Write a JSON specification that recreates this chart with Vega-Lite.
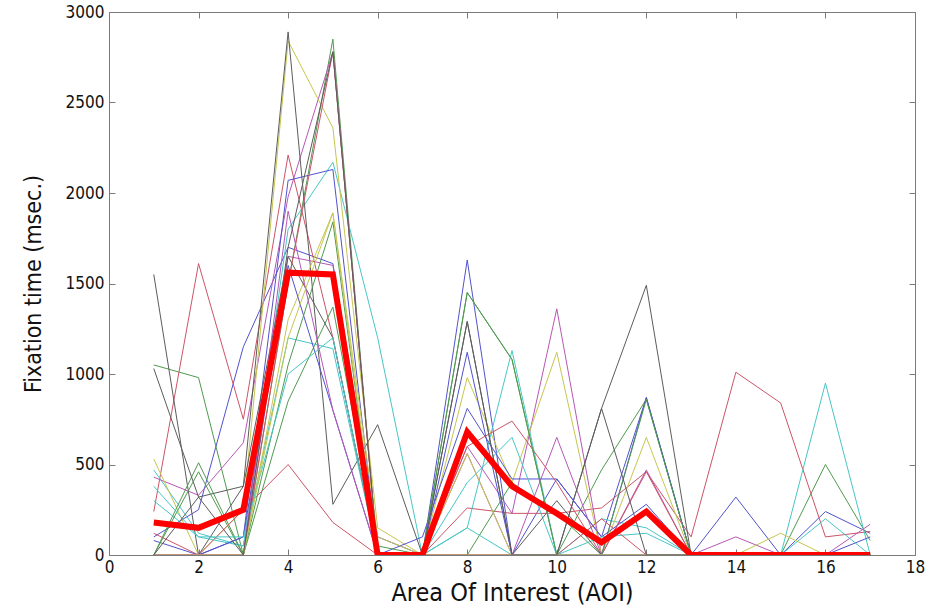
{
  "$schema": "https://vega.github.io/schema/vega-lite/v6.json",
  "width": 806,
  "height": 543,
  "autosize": "none",
  "padding": {"left": 109, "top": 12, "right": 17, "bottom": 57},
  "background": "white",
  "config": {
    "view": {"stroke": null},
    "axis": {
      "grid": false,
      "domainColor": "#7a7a7a",
      "tickColor": "#7a7a7a",
      "labelFont": "DejaVu Sans Condensed, Liberation Sans, sans-serif",
      "titleFont": "DejaVu Sans Condensed, Liberation Sans, sans-serif",
      "labelColor": "#111111",
      "titleColor": "#111111",
      "titleFontWeight": "normal",
      "labelFontSize": 17,
      "titleFontSize": 25
    }
  },
  "datasets": {
    "subjects": [
      {"s":"s01","aoi":1,"t":100},{"s":"s01","aoi":2,"t":250},{"s":"s01","aoi":3,"t":1150},{"s":"s01","aoi":4,"t":1700},{"s":"s01","aoi":5,"t":1610},{"s":"s01","aoi":6,"t":100},{"s":"s01","aoi":7,"t":0},{"s":"s01","aoi":8,"t":1630},{"s":"s01","aoi":9,"t":0},{"s":"s01","aoi":10,"t":420},{"s":"s01","aoi":11,"t":100},{"s":"s01","aoi":12,"t":870},{"s":"s01","aoi":13,"t":0},{"s":"s01","aoi":14,"t":320},{"s":"s01","aoi":15,"t":0},{"s":"s01","aoi":16,"t":240},{"s":"s01","aoi":17,"t":120},
      {"s":"s02","aoi":1,"t":1050},{"s":"s02","aoi":2,"t":980},{"s":"s02","aoi":3,"t":0},{"s":"s02","aoi":4,"t":1500},{"s":"s02","aoi":5,"t":2850},{"s":"s02","aoi":6,"t":0},{"s":"s02","aoi":7,"t":0},{"s":"s02","aoi":8,"t":1450},{"s":"s02","aoi":9,"t":1080},{"s":"s02","aoi":10,"t":0},{"s":"s02","aoi":11,"t":470},{"s":"s02","aoi":12,"t":860},{"s":"s02","aoi":13,"t":0},{"s":"s02","aoi":14,"t":0},{"s":"s02","aoi":15,"t":0},{"s":"s02","aoi":16,"t":500},{"s":"s02","aoi":17,"t":80},
      {"s":"s03","aoi":1,"t":240},{"s":"s03","aoi":2,"t":1610},{"s":"s03","aoi":3,"t":750},{"s":"s03","aoi":4,"t":2210},{"s":"s03","aoi":5,"t":1200},{"s":"s03","aoi":6,"t":0},{"s":"s03","aoi":7,"t":0},{"s":"s03","aoi":8,"t":260},{"s":"s03","aoi":9,"t":230},{"s":"s03","aoi":10,"t":230},{"s":"s03","aoi":11,"t":260},{"s":"s03","aoi":12,"t":460},{"s":"s03","aoi":13,"t":100},{"s":"s03","aoi":14,"t":1010},{"s":"s03","aoi":15,"t":840},{"s":"s03","aoi":16,"t":100},{"s":"s03","aoi":17,"t":130},
      {"s":"s04","aoi":1,"t":470},{"s":"s04","aoi":2,"t":120},{"s":"s04","aoi":3,"t":50},{"s":"s04","aoi":4,"t":1800},{"s":"s04","aoi":5,"t":2170},{"s":"s04","aoi":6,"t":1200},{"s":"s04","aoi":7,"t":0},{"s":"s04","aoi":8,"t":150},{"s":"s04","aoi":9,"t":1130},{"s":"s04","aoi":10,"t":0},{"s":"s04","aoi":11,"t":200},{"s":"s04","aoi":12,"t":150},{"s":"s04","aoi":13,"t":0},{"s":"s04","aoi":14,"t":0},{"s":"s04","aoi":15,"t":0},{"s":"s04","aoi":16,"t":950},{"s":"s04","aoi":17,"t":0},
      {"s":"s05","aoi":1,"t":430},{"s":"s05","aoi":2,"t":330},{"s":"s05","aoi":3,"t":620},{"s":"s05","aoi":4,"t":1980},{"s":"s05","aoi":5,"t":2780},{"s":"s05","aoi":6,"t":0},{"s":"s05","aoi":7,"t":0},{"s":"s05","aoi":8,"t":600},{"s":"s05","aoi":9,"t":230},{"s":"s05","aoi":10,"t":1360},{"s":"s05","aoi":11,"t":0},{"s":"s05","aoi":12,"t":470},{"s":"s05","aoi":13,"t":0},{"s":"s05","aoi":14,"t":100},{"s":"s05","aoi":15,"t":0},{"s":"s05","aoi":16,"t":0},{"s":"s05","aoi":17,"t":170},
      {"s":"s06","aoi":1,"t":530},{"s":"s06","aoi":2,"t":0},{"s":"s06","aoi":3,"t":250},{"s":"s06","aoi":4,"t":2840},{"s":"s06","aoi":5,"t":2360},{"s":"s06","aoi":6,"t":150},{"s":"s06","aoi":7,"t":0},{"s":"s06","aoi":8,"t":980},{"s":"s06","aoi":9,"t":400},{"s":"s06","aoi":10,"t":1120},{"s":"s06","aoi":11,"t":0},{"s":"s06","aoi":12,"t":650},{"s":"s06","aoi":13,"t":0},{"s":"s06","aoi":14,"t":0},{"s":"s06","aoi":15,"t":120},{"s":"s06","aoi":16,"t":0},{"s":"s06","aoi":17,"t":0},
      {"s":"s07","aoi":1,"t":1550},{"s":"s07","aoi":2,"t":0},{"s":"s07","aoi":3,"t":380},{"s":"s07","aoi":4,"t":2890},{"s":"s07","aoi":5,"t":280},{"s":"s07","aoi":6,"t":720},{"s":"s07","aoi":7,"t":0},{"s":"s07","aoi":8,"t":1290},{"s":"s07","aoi":9,"t":0},{"s":"s07","aoi":10,"t":0},{"s":"s07","aoi":11,"t":810},{"s":"s07","aoi":12,"t":1490},{"s":"s07","aoi":13,"t":0},{"s":"s07","aoi":14,"t":0},{"s":"s07","aoi":15,"t":0},{"s":"s07","aoi":16,"t":0},{"s":"s07","aoi":17,"t":0},
      {"s":"s08","aoi":1,"t":80},{"s":"s08","aoi":2,"t":0},{"s":"s08","aoi":3,"t":100},{"s":"s08","aoi":4,"t":2070},{"s":"s08","aoi":5,"t":2130},{"s":"s08","aoi":6,"t":0},{"s":"s08","aoi":7,"t":100},{"s":"s08","aoi":8,"t":810},{"s":"s08","aoi":9,"t":420},{"s":"s08","aoi":10,"t":420},{"s":"s08","aoi":11,"t":100},{"s":"s08","aoi":12,"t":280},{"s":"s08","aoi":13,"t":0},{"s":"s08","aoi":14,"t":0},{"s":"s08","aoi":15,"t":0},{"s":"s08","aoi":16,"t":0},{"s":"s08","aoi":17,"t":100},
      {"s":"s09","aoi":1,"t":0},{"s":"s09","aoi":2,"t":510},{"s":"s09","aoi":3,"t":0},{"s":"s09","aoi":4,"t":850},{"s":"s09","aoi":5,"t":1370},{"s":"s09","aoi":6,"t":50},{"s":"s09","aoi":7,"t":0},{"s":"s09","aoi":8,"t":0},{"s":"s09","aoi":9,"t":400},{"s":"s09","aoi":10,"t":230},{"s":"s09","aoi":11,"t":0},{"s":"s09","aoi":12,"t":0},{"s":"s09","aoi":13,"t":0},{"s":"s09","aoi":14,"t":0},{"s":"s09","aoi":15,"t":0},{"s":"s09","aoi":16,"t":0},{"s":"s09","aoi":17,"t":0},
      {"s":"s10","aoi":1,"t":120},{"s":"s10","aoi":2,"t":0},{"s":"s10","aoi":3,"t":250},{"s":"s10","aoi":4,"t":500},{"s":"s10","aoi":5,"t":180},{"s":"s10","aoi":6,"t":0},{"s":"s10","aoi":7,"t":0},{"s":"s10","aoi":8,"t":600},{"s":"s10","aoi":9,"t":740},{"s":"s10","aoi":10,"t":400},{"s":"s10","aoi":11,"t":0},{"s":"s10","aoi":12,"t":460},{"s":"s10","aoi":13,"t":0},{"s":"s10","aoi":14,"t":0},{"s":"s10","aoi":15,"t":0},{"s":"s10","aoi":16,"t":0},{"s":"s10","aoi":17,"t":0},
      {"s":"s11","aoi":1,"t":300},{"s":"s11","aoi":2,"t":100},{"s":"s11","aoi":3,"t":50},{"s":"s11","aoi":4,"t":1200},{"s":"s11","aoi":5,"t":1140},{"s":"s11","aoi":6,"t":0},{"s":"s11","aoi":7,"t":0},{"s":"s11","aoi":8,"t":400},{"s":"s11","aoi":9,"t":650},{"s":"s11","aoi":10,"t":0},{"s":"s11","aoi":11,"t":100},{"s":"s11","aoi":12,"t":120},{"s":"s11","aoi":13,"t":0},{"s":"s11","aoi":14,"t":0},{"s":"s11","aoi":15,"t":0},{"s":"s11","aoi":16,"t":200},{"s":"s11","aoi":17,"t":0},
      {"s":"s12","aoi":1,"t":0},{"s":"s12","aoi":2,"t":0},{"s":"s12","aoi":3,"t":0},{"s":"s12","aoi":4,"t":1650},{"s":"s12","aoi":5,"t":1600},{"s":"s12","aoi":6,"t":0},{"s":"s12","aoi":7,"t":0},{"s":"s12","aoi":8,"t":560},{"s":"s12","aoi":9,"t":0},{"s":"s12","aoi":10,"t":650},{"s":"s12","aoi":11,"t":0},{"s":"s12","aoi":12,"t":0},{"s":"s12","aoi":13,"t":0},{"s":"s12","aoi":14,"t":0},{"s":"s12","aoi":15,"t":0},{"s":"s12","aoi":16,"t":0},{"s":"s12","aoi":17,"t":0},
      {"s":"s13","aoi":1,"t":0},{"s":"s13","aoi":2,"t":0},{"s":"s13","aoi":3,"t":0},{"s":"s13","aoi":4,"t":1300},{"s":"s13","aoi":5,"t":1890},{"s":"s13","aoi":6,"t":100},{"s":"s13","aoi":7,"t":0},{"s":"s13","aoi":8,"t":560},{"s":"s13","aoi":9,"t":0},{"s":"s13","aoi":10,"t":0},{"s":"s13","aoi":11,"t":0},{"s":"s13","aoi":12,"t":0},{"s":"s13","aoi":13,"t":0},{"s":"s13","aoi":14,"t":0},{"s":"s13","aoi":15,"t":0},{"s":"s13","aoi":16,"t":0},{"s":"s13","aoi":17,"t":0},
      {"s":"s14","aoi":1,"t":1030},{"s":"s14","aoi":2,"t":320},{"s":"s14","aoi":3,"t":380},{"s":"s14","aoi":4,"t":1650},{"s":"s14","aoi":5,"t":1200},{"s":"s14","aoi":6,"t":0},{"s":"s14","aoi":7,"t":0},{"s":"s14","aoi":8,"t":0},{"s":"s14","aoi":9,"t":0},{"s":"s14","aoi":10,"t":300},{"s":"s14","aoi":11,"t":0},{"s":"s14","aoi":12,"t":0},{"s":"s14","aoi":13,"t":0},{"s":"s14","aoi":14,"t":0},{"s":"s14","aoi":15,"t":0},{"s":"s14","aoi":16,"t":0},{"s":"s14","aoi":17,"t":0},
      {"s":"s15","aoi":1,"t":0},{"s":"s15","aoi":2,"t":0},{"s":"s15","aoi":3,"t":100},{"s":"s15","aoi":4,"t":1600},{"s":"s15","aoi":5,"t":800},{"s":"s15","aoi":6,"t":0},{"s":"s15","aoi":7,"t":0},{"s":"s15","aoi":8,"t":1120},{"s":"s15","aoi":9,"t":0},{"s":"s15","aoi":10,"t":0},{"s":"s15","aoi":11,"t":0},{"s":"s15","aoi":12,"t":870},{"s":"s15","aoi":13,"t":0},{"s":"s15","aoi":14,"t":0},{"s":"s15","aoi":15,"t":0},{"s":"s15","aoi":16,"t":0},{"s":"s15","aoi":17,"t":0},
      {"s":"s16","aoi":1,"t":0},{"s":"s16","aoi":2,"t":460},{"s":"s16","aoi":3,"t":0},{"s":"s16","aoi":4,"t":1050},{"s":"s16","aoi":5,"t":1840},{"s":"s16","aoi":6,"t":0},{"s":"s16","aoi":7,"t":0},{"s":"s16","aoi":8,"t":1450},{"s":"s16","aoi":9,"t":1080},{"s":"s16","aoi":10,"t":0},{"s":"s16","aoi":11,"t":0},{"s":"s16","aoi":12,"t":860},{"s":"s16","aoi":13,"t":0},{"s":"s16","aoi":14,"t":0},{"s":"s16","aoi":15,"t":0},{"s":"s16","aoi":16,"t":0},{"s":"s16","aoi":17,"t":0},
      {"s":"s17","aoi":1,"t":0},{"s":"s17","aoi":2,"t":0},{"s":"s17","aoi":3,"t":0},{"s":"s17","aoi":4,"t":1500},{"s":"s17","aoi":5,"t":2780},{"s":"s17","aoi":6,"t":0},{"s":"s17","aoi":7,"t":0},{"s":"s17","aoi":8,"t":0},{"s":"s17","aoi":9,"t":0},{"s":"s17","aoi":10,"t":0},{"s":"s17","aoi":11,"t":200},{"s":"s17","aoi":12,"t":0},{"s":"s17","aoi":13,"t":0},{"s":"s17","aoi":14,"t":0},{"s":"s17","aoi":15,"t":0},{"s":"s17","aoi":16,"t":0},{"s":"s17","aoi":17,"t":0},
      {"s":"s18","aoi":1,"t":380},{"s":"s18","aoi":2,"t":100},{"s":"s18","aoi":3,"t":100},{"s":"s18","aoi":4,"t":1000},{"s":"s18","aoi":5,"t":1200},{"s":"s18","aoi":6,"t":0},{"s":"s18","aoi":7,"t":0},{"s":"s18","aoi":8,"t":150},{"s":"s18","aoi":9,"t":0},{"s":"s18","aoi":10,"t":0},{"s":"s18","aoi":11,"t":0},{"s":"s18","aoi":12,"t":0},{"s":"s18","aoi":13,"t":0},{"s":"s18","aoi":14,"t":0},{"s":"s18","aoi":15,"t":0},{"s":"s18","aoi":16,"t":0},{"s":"s18","aoi":17,"t":0},
      {"s":"s19","aoi":1,"t":0},{"s":"s19","aoi":2,"t":0},{"s":"s19","aoi":3,"t":0},{"s":"s19","aoi":4,"t":1900},{"s":"s19","aoi":5,"t":800},{"s":"s19","aoi":6,"t":0},{"s":"s19","aoi":7,"t":0},{"s":"s19","aoi":8,"t":0},{"s":"s19","aoi":9,"t":0},{"s":"s19","aoi":10,"t":0},{"s":"s19","aoi":11,"t":0},{"s":"s19","aoi":12,"t":0},{"s":"s19","aoi":13,"t":0},{"s":"s19","aoi":14,"t":0},{"s":"s19","aoi":15,"t":0},{"s":"s19","aoi":16,"t":0},{"s":"s19","aoi":17,"t":0},
      {"s":"s20","aoi":1,"t":0},{"s":"s20","aoi":2,"t":0},{"s":"s20","aoi":3,"t":0},{"s":"s20","aoi":4,"t":1200},{"s":"s20","aoi":5,"t":1890},{"s":"s20","aoi":6,"t":0},{"s":"s20","aoi":7,"t":0},{"s":"s20","aoi":8,"t":0},{"s":"s20","aoi":9,"t":0},{"s":"s20","aoi":10,"t":0},{"s":"s20","aoi":11,"t":0},{"s":"s20","aoi":12,"t":0},{"s":"s20","aoi":13,"t":0},{"s":"s20","aoi":14,"t":0},{"s":"s20","aoi":15,"t":0},{"s":"s20","aoi":16,"t":0},{"s":"s20","aoi":17,"t":0},
      {"s":"s21","aoi":1,"t":0},{"s":"s21","aoi":2,"t":320},{"s":"s21","aoi":3,"t":0},{"s":"s21","aoi":4,"t":1700},{"s":"s21","aoi":5,"t":2780},{"s":"s21","aoi":6,"t":0},{"s":"s21","aoi":7,"t":0},{"s":"s21","aoi":8,"t":1290},{"s":"s21","aoi":9,"t":0},{"s":"s21","aoi":10,"t":0},{"s":"s21","aoi":11,"t":810},{"s":"s21","aoi":12,"t":0},{"s":"s21","aoi":13,"t":0},{"s":"s21","aoi":14,"t":0},{"s":"s21","aoi":15,"t":0},{"s":"s21","aoi":16,"t":0},{"s":"s21","aoi":17,"t":0}
    ],
    "mean": [
      {"aoi":1,"t":180},{"aoi":2,"t":150},{"aoi":3,"t":250},{"aoi":4,"t":1560},{"aoi":5,"t":1550},{"aoi":6,"t":0},{"aoi":7,"t":0},{"aoi":8,"t":680},{"aoi":9,"t":380},{"aoi":10,"t":230},{"aoi":11,"t":70},{"aoi":12,"t":240},{"aoi":13,"t":0},{"aoi":14,"t":0},{"aoi":15,"t":0},{"aoi":16,"t":0},{"aoi":17,"t":0}
    ]
  },
  "layer": [
    {
      "data": {"name": "subjects"},
      "mark": {"type": "line", "strokeWidth": 1, "clip": true},
      "encoding": {
        "x": {
          "field": "aoi", "type": "quantitative",
          "scale": {"domain": [0, 18], "nice": false, "zero": false},
          "axis": {"title": "Area Of Interest (AOI)", "values": [0,2,4,6,8,10,12,14,16,18], "format": "d", "tickSize": -6, "labelPadding": 10, "titlePadding": 5, "labelFlush": false}
        },
        "y": {
          "field": "t", "type": "quantitative",
          "scale": {"domain": [0, 3000], "nice": false},
          "axis": {"title": "Fixation time (msec.)", "values": [0,500,1000,1500,2000,2500,3000], "format": "d", "tickSize": -6, "labelPadding": 11, "titlePadding": 20, "titleFontSize": 23, "labelFlush": false}
        },
        "color": {
          "field": "s", "type": "nominal", "legend": null,
          "scale": {"range": ["#5252cc", "#509a50", "#cc5468", "#48c6c6", "#b658b6", "#c6c650", "#5c5c5c"]}
        },
        "detail": {"field": "s"}
      }
    },
    {
      "data": {"name": "mean"},
      "mark": {"type": "line", "color": "#ff0000", "strokeWidth": 6, "strokeJoin": "miter", "clip": true},
      "encoding": {
        "x": {"field": "aoi", "type": "quantitative", "axis": {"orient": "top", "title": null, "labels": false, "values": [0,2,4,6,8,10,12,14,16,18], "tickSize": -6}},
        "y": {"field": "t", "type": "quantitative", "axis": {"orient": "right", "title": null, "labels": false, "values": [0,500,1000,1500,2000,2500,3000], "tickSize": -6}}
      }
    }
  ],
  "resolve": {"axis": {"x": "independent", "y": "independent"}}
}
